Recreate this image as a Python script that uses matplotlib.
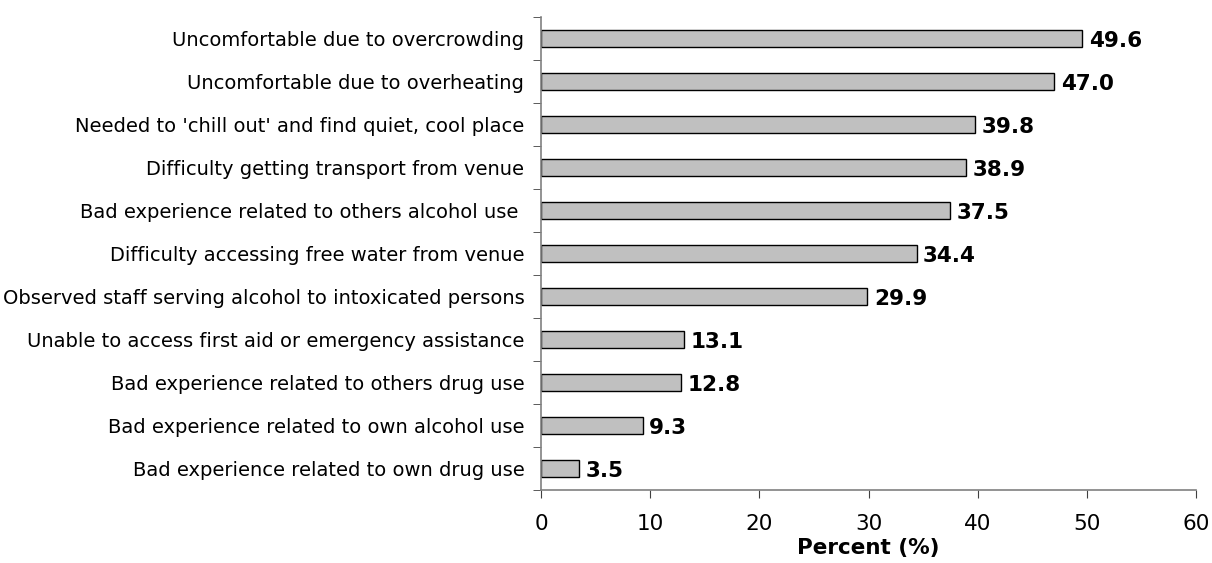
import numpy as np
import matplotlib.pyplot as plt

plt.rcParams['font.family'] = ['DejaVu Sans']

categories = [
    "Uncomfortable due to overcrowding",
    "Uncomfortable due to overheating",
    "Needed to 'chill out' and find quiet, cool place",
    "Difficulty getting transport from venue",
    "Bad experience related to others alcohol use ",
    "Difficulty accessing free water from venue",
    "Observed staff serving alcohol to intoxicated persons",
    "Unable to access first aid or emergency assistance",
    "Bad experience related to others drug use",
    "Bad experience related to own alcohol use",
    "Bad experience related to own drug use",
]
values = [49.6, 47.0, 39.8, 38.9, 37.5, 34.4, 29.9, 13.1, 12.8, 9.3, 3.5]
xticks = [0, 10, 20, 30, 40, 50, 60]

fig = plt.figure(figsize=(12.12, 5.63), dpi=100)
ax = fig.add_axes([0.4464, 0.1297, 0.5404, 0.8403])

n = len(categories)
y = np.arange(n)[::-1]
ax.barh(y, values, height=0.4, color='#c0c0c0', edgecolor='black', linewidth=1)

for yi, v in zip(y, values):
    ax.text(v + 0.6, yi - 0.06, f"{v:.1f}", va='center', ha='left',
            fontsize=15.5, fontweight='bold')

ax.set_xlim(0, 60)
ax.set_ylim(-0.5, n - 0.5)
ax.set_xticks(xticks)
ax.set_xticklabels([str(t) for t in xticks], fontsize=15.5)
ax.set_yticks(y)
ax.set_yticklabels(categories, fontsize=14)
ax.set_yticks(np.arange(n + 1) - 0.5, minor=True)
ax.tick_params(axis='y', which='major', length=0, pad=12)
ax.tick_params(axis='y', which='minor', length=6, color='#404040')
ax.tick_params(axis='x', which='major', length=6, color='#404040', pad=11)

for s in ['top', 'right']:
    ax.spines[s].set_visible(False)
for s in ['left', 'bottom']:
    ax.spines[s].set_color('#808080')
    ax.spines[s].set_linewidth(1.2)

ax.set_xlabel("Percent (%)", fontsize=15.5, fontweight='bold', labelpad=3)

fig.savefig('out.png', dpi=100)
